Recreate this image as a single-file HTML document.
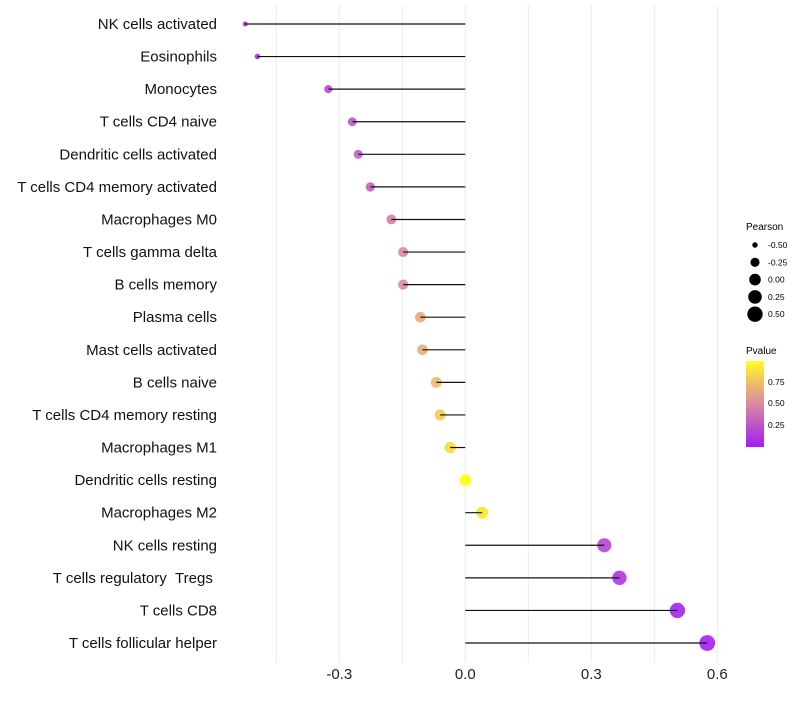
<!DOCTYPE html>
<html><head><meta charset="utf-8"><style>
body{margin:0;background:#fff;font-family:"Liberation Sans",sans-serif}
svg text{font-family:"Liberation Sans",sans-serif}
</style></head><body>
<svg id="chart" width="800" height="700" xmlns="http://www.w3.org/2000/svg">
<g id="grid"></g>
<g id="marks"></g>
<g id="ylabels"></g>
<g id="xlabels"></g>
<g id="legend">
 <text x="746" y="230" font-size="10">Pearson</text>
 <g id="sizeleg"></g>
 <text x="746" y="354" font-size="10">Pvalue</text>
 <defs><linearGradient id="pg" x1="0" y1="1" x2="0" y2="0">
  <stop offset="0" stop-color="#a31cf5"/><stop offset="0.5" stop-color="#d98aa0"/><stop offset="0.75" stop-color="#f2bd64"/><stop offset="1" stop-color="#ffff20"/></linearGradient></defs>
 <rect x="746" y="361" width="18" height="86" fill="url(#pg)"/>
 <text x="768" y="385" font-size="8.5">0.75</text>
 <text x="768" y="406" font-size="8.5">0.50</text>
 <text x="768" y="428" font-size="8.5">0.25</text>
</g>
</svg>
<script>
const categories=["NK cells activated","Eosinophils","Monocytes","T cells CD4 naive","Dendritic cells activated","T cells CD4 memory activated","Macrophages M0","T cells gamma delta","B cells memory","Plasma cells","Mast cells activated","B cells naive","T cells CD4 memory resting","Macrophages M1","Dendritic cells resting","Macrophages M2","NK cells resting","T cells regulatory\u00a0\u00a0Tregs\u00a0","T cells CD8","T cells follicular helper"];
const pearson=[-0.524,-0.495,-0.326,-0.269,-0.255,-0.226,-0.176,-0.148,-0.148,-0.107,-0.102,-0.069,-0.060,-0.036,0.0,0.040,0.331,0.367,0.505,0.576];
const pvalues=[0.05,0.06,0.2,0.27,0.3,0.3,0.45,0.5,0.5,0.65,0.67,0.75,0.8,0.86,1.0,0.9,0.18,0.12,0.03,0.02];
const xTicks=[-0.3,0.0,0.3,0.6];
const xGrid=[-0.45,-0.3,-0.15,0,0.15,0.3,0.45,0.6];
const sizeLegend=[-0.5,-0.25,0,0.25,0.5];
const NS="http://www.w3.org/2000/svg";
const X=v=>465.3+v*420;
const Y=i=>24+i*(643-24)/19;
const R=v=>Math.sqrt(Math.max(2,28+46*v))+0.5;
function mk(t,a,p){const e=document.createElementNS(NS,t);for(const k in a)e.setAttribute(k,a[k]);p.appendChild(e);return e;}
function lerp(a,b,t){return a.map((x,i)=>Math.round(x+(b[i]-x)*t));}
function col(p){const s=[[0,[163,28,245]],[0.5,[217,138,160]],[0.75,[242,189,100]],[1,[255,255,0]]];
 for(let i=1;i<s.length;i++){if(p<=s[i][0]){const t=(p-s[i-1][0])/(s[i][0]-s[i-1][0]);const c=lerp(s[i-1][1],s[i][1],t);return `rgb(${c})`;}}return "rgb(255,255,0)";}
const grid=document.getElementById('grid'),marks=document.getElementById('marks'),yl=document.getElementById('ylabels'),xl=document.getElementById('xlabels');
xGrid.forEach(v=>{const l=mk('line',{x1:X(v),x2:X(v),y1:5,y2:662,stroke:'#ebebeb','stroke-width':1},grid);

});
xTicks.forEach(v=>{const t=mk('text',{x:X(v),y:679,'font-size':15,'text-anchor':'middle',fill:'#222'},xl);t.textContent=v.toFixed(1);

});
categories.forEach((c,i)=>{const y=Y(i);
 const pt=mk('circle',{cx:X(pearson[i]),cy:y,r:R(pearson[i]),fill:col(pvalues[i]),'fill-opacity':0.9},marks);
 
 
 const ln=mk('line',{x1:X(0),x2:X(pearson[i]),y1:y,y2:y,stroke:'#111','stroke-width':1.2},marks);
 
 
 const t=mk('text',{x:217,y:y+5,'font-size':15,'text-anchor':'end',fill:'#111'},yl);t.textContent=c;
 
 });
const sl=document.getElementById('sizeleg');
sizeLegend.forEach((v,i)=>{const y=245+i*17.3;
 const c=mk('circle',{cx:755,cy:y,r:R(v),fill:'#000'},sl);
 
 
 const t=mk('text',{x:768,y:y+3,'font-size':8.5},sl);t.textContent=v.toFixed(2);
 
 });
</script>
</body></html>
